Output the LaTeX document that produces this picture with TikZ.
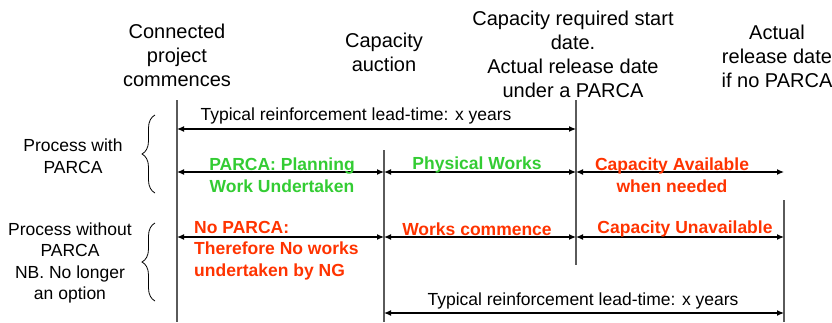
\documentclass[tikz,border=0pt]{standalone}
\usepackage{fontspec}
\setmainfont{Liberation Sans}
\usetikzlibrary{arrows.meta,decorations.pathreplacing}
\definecolor{pgreen}{RGB}{51,204,51}
\definecolor{pred}{RGB}{255,51,0}
\definecolor{vgray}{RGB}{90,90,90}
\tikzset{
  toplabel/.style={align=center,inner sep=0pt,font=\fontsize{20}{24}\selectfont},
  sidelabel/.style={align=center,inner sep=0pt,font=\fontsize{17.5}{21.5}\selectfont},
  spanlabel/.style={align=center,inner sep=0pt,font=\fontsize{17.5}{21.5}\selectfont},
  greenlabel/.style={align=center,inner sep=0pt,text=pgreen,font=\fontsize{17.5}{21.5}\selectfont\bfseries},
  redlabel/.style={align=center,inner sep=0pt,text=pred,font=\fontsize{17.5}{21.5}\selectfont\bfseries},
  vline/.style={draw=vgray,line width=1.4pt},
  span/.style={draw=black,line width=1.2pt,{Latex[length=7pt,width=6pt]}-{Latex[length=7pt,width=6pt]}},
  onespan/.style={draw=black,line width=1.2pt,-{Latex[length=7pt,width=6pt]}},
  bracestyle/.style={draw=black,line width=0.8pt,decorate,decoration={brace,amplitude=13pt}}
}
\begin{document}
\begin{tikzpicture}[x=1pt,y=-1pt]
\useasboundingbox (0,0) rectangle (832,322);
% vertical time markers
\coordinate (v1t) at (177,100); \coordinate (v1b) at (177,322);
\coordinate (v2t) at (384,150); \coordinate (v2b) at (384,322);
\coordinate (v3t) at (576,100); \coordinate (v3b) at (576,265);
\coordinate (v4t) at (784,200); \coordinate (v4b) at (784,322);
\draw[vline] (v1t) -- (v1b);
\draw[vline] (v2t) -- (v2b);
\draw[vline] (v3t) -- (v3b);
\draw[vline] (v4t) -- (v4b);
% top labels
\node[toplabel] (t1) at (177,55) {Connected\\project\\commences};
\node[toplabel] (t2) at (384,52) {Capacity\\auction};
\node[toplabel] (t3) at (573,54) {Capacity required start\\date.\\Actual release date\\under a PARCA};
\node[toplabel] (t4) at (777,56) {Actual\\release date\\if no PARCA};
% side labels and braces
\node[sidelabel] (s1) at (73,156) {Process with\\PARCA};
\node[sidelabel] (s2) at (70,263) {Process without\\PARCA\\NB. No longer\\an option};
\coordinate (b1a) at (155,193); \coordinate (b1b) at (155,115);
\coordinate (b2a) at (155,301); \coordinate (b2b) at (155,223);
\draw[bracestyle] (b1a) -- (b1b);
\draw[bracestyle] (b2a) -- (b2b);
% row 1
\coordinate (r1a) at (177,129); \coordinate (r1b) at (576,129);
\draw[span] (r1a) -- (r1b);
\node[spanlabel] (l1) at (356,116) {Typical reinforcement lead-time: x years};
% row 2
\coordinate (r2a) at (177,172); \coordinate (r2b) at (384,172);
\coordinate (r2c) at (576,172); \coordinate (r2d) at (784,172);
\draw[span] (r2a) -- (r2b);
\draw[span] (r2b) -- (r2c);
\draw[span] (r2c) -- (r2d);
\node[greenlabel] (l2a) at (282,175) {PARCA: Planning\\Work Undertaken};
\node[greenlabel] (l2b) at (477,165) {Physical Works};
\node[redlabel] (l2c) at (672,175) {Capacity Available\\when needed};
% row 3
\coordinate (r3a) at (177,237); \coordinate (r3b) at (384,237);
\coordinate (r3c) at (576,237); \coordinate (r3d) at (784,237);
\draw[span] (r3a) -- (r3b);
\draw[span] (r3b) -- (r3c);
\draw[span] (r3c) -- (r3d);
\node[redlabel,align=left,anchor=west] (l3a) at (194,250.5) {No PARCA:\\Therefore No works\\undertaken by NG};
\node[redlabel] (l3b) at (477,229) {Works commence};
\node[redlabel] (l3c) at (685,229) {Capacity Unavailable};
% row 4
\coordinate (r4a) at (384,313); \coordinate (r4b) at (784,313);
\draw[span] (r4a) -- (r4b);
\node[spanlabel] (l4) at (583,301) {Typical reinforcement lead-time: x years};
\end{tikzpicture}
\end{document}
